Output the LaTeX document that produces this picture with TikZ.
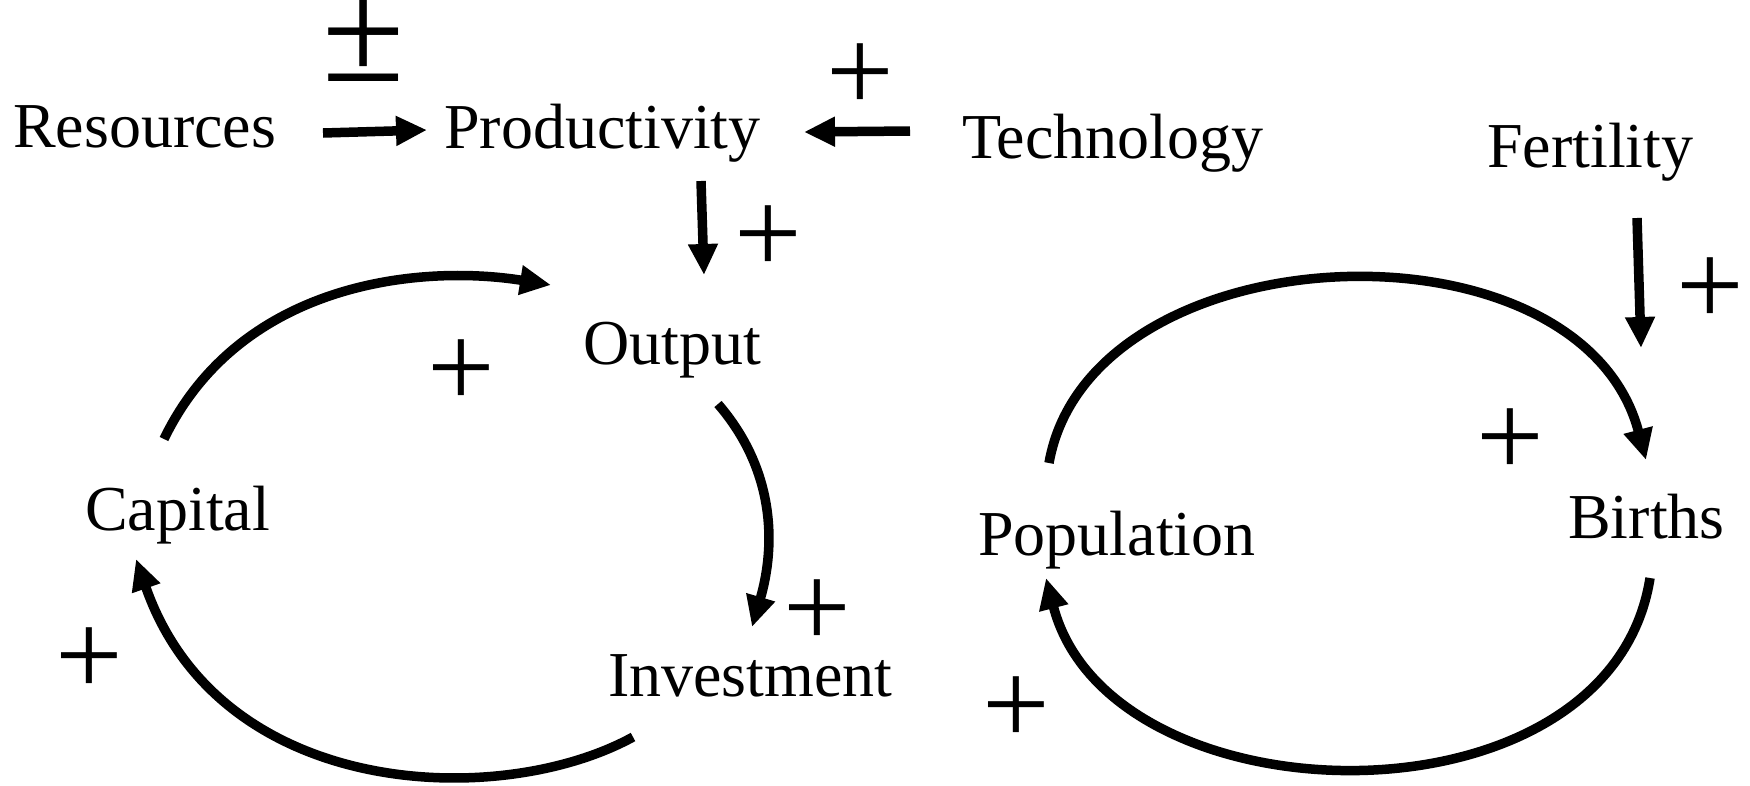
\documentclass[tikz,border=0pt]{standalone}
\usepackage{fontspec}
\setmainfont{Liberation Serif}
\usetikzlibrary{arrows.meta}
\begin{document}
\begin{tikzpicture}[x=1pt,y=-1pt,
  lbl/.style={inner sep=0pt,anchor=base west,font=\fontsize{64}{70}\selectfont},
  sgn/.style={inner sep=0pt,font=\fontsize{120}{130}\selectfont},
  link/.style={line width=9.5pt,-{Triangle[length=31pt,width=28pt]}}]
\useasboundingbox[fill=white] (0,0) rectangle (1750,785);
% variables
\node[lbl] (res) at (13,147) {Resources};
\node[lbl] (prod) at (444,148) {Productivity};
\node[lbl] (tech) at (962,158) {Technology};
\node[lbl] (fert) at (1487,167) {Fertility};
\node[lbl] (out) at (583,364) {Output};
\node[lbl] (cap) at (85,530) {Capital};
\node[lbl] (inv) at (608,696) {Investment};
\node[lbl] (pop) at (978,555) {Population};
\node[lbl] (bir) at (1568,538) {Births};
% connector end points
\coordinate (a1) at (323,133);
\coordinate (a2) at (427,130);
\coordinate (b1) at (910,131);
\coordinate (b2) at (804,132);
\coordinate (c1) at (701,181);
\coordinate (c2) at (704,275);
\coordinate (d1) at (1637,218);
\coordinate (d2) at (1641,348);
\coordinate (e1) at (164,439);
\coordinate (e2) at (551,285);
\coordinate (f1) at (718,404);
\coordinate (f2) at (752,627);
\coordinate (g1) at (633,737);
\coordinate (g2) at (136,559);
\coordinate (h1) at (1049,463);
\coordinate (h2) at (1646,460);
\coordinate (i1) at (1650,578);
\coordinate (i2) at (1046,578);
% connectors
\draw[link] (a1) -- (a2);
\draw[link] (b1) -- (b2);
\draw[link] (c1) -- (c2);
\draw[link] (d1) -- (d2);
\draw[link] (e1) .. controls (240,282) and (420,264) .. (e2);
\draw[link] (f1) .. controls (775,470) and (776,545) .. (f2);
\draw[link] (g1) .. controls (500,810) and (220,800) .. (g2);
\draw[link] (h1) .. controls (1090,230) and (1580,210) .. (h2);
\draw[link] (i1) .. controls (1610,835) and (1110,825) .. (i2);
% polarity signs
\node[sgn,font=\fontsize{150}{160}\selectfont,anchor=base] (s1) at (364,81) {±};
\node[sgn] (s2) at (860,78) {+};
\node[sgn] (s3) at (768,240) {+};
\node[sgn] (s4) at (461,374) {+};
\node[sgn] (s5) at (817,614) {+};
\node[sgn] (s6) at (89,662) {+};
\node[sgn] (s7) at (1710,292) {+};
\node[sgn] (s8) at (1510,443) {+};
\node[sgn] (s9) at (1016,711) {+};
\end{tikzpicture}
\end{document}
